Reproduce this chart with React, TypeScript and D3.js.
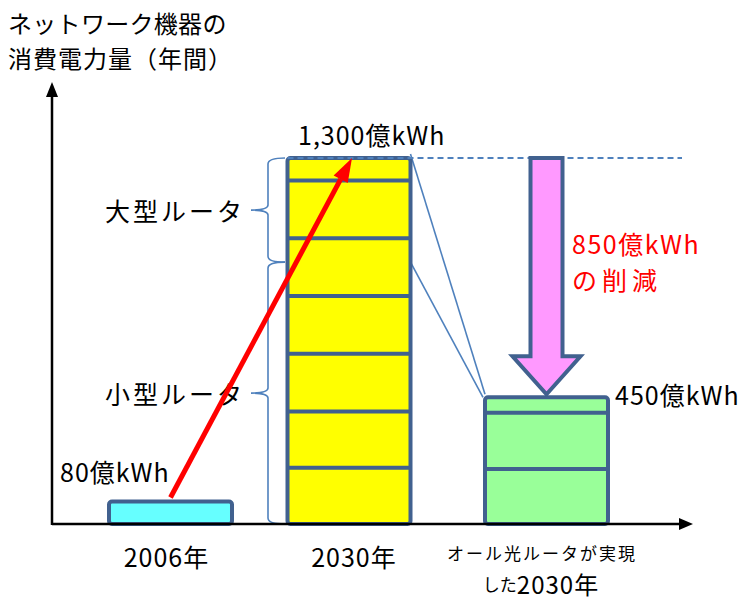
import React from 'react';
import * as d3 from 'd3';

// 年間消費電力量 (億kWh)
const categories = ['2006年', '2030年', 'optical'];
const segments2006 = [80];
const segments2030 = [200, 200, 205, 205, 205, 205, 80];
const segmentsOptical = [195, 200, 55];
const totalLabels = ['80億kWh', '1,300億kWh', '450億kWh'];
const routerGroups = [
  { label: '小型ルータ', from: 0, to: 930 },
  { label: '大型ルータ', from: 930, to: 1300 },
];
const reductionLabel = ['850億kWh', 'の削減'];
const titleLines = ['ネットワーク機器の', '消費電力量（年間）'];

const W = 747;
const H = 601;
const FONT = '"Noto Sans CJK JP", "Noto Sans", sans-serif';
const EDGE = '#41618f';
const BLUE = '#4f81bd';

const fills = ['#66ffff', '#ffff00', '#99ff99'];
const allSegments = [segments2006, segments2030, segmentsOptical];

export default function App() {
  const y = d3.scaleLinear().domain([0, 1300]).range([524, 158]);
  const x = d3.scaleOrdinal<string, number>().domain(categories).range([170.5, 349, 546.5]);
  const half = 61.5;
  const axisX = 52;
  const axisY = y(0);

  const totals = allSegments.map(s => d3.sum(s));

  const bars = categories.map((c, i) => {
    const cum = [0, ...Array.from(d3.cumsum(allSegments[i]))];
    const cx = x(c);
    return (
      <g key={c}>
        <rect x={cx - half} y={y(totals[i])} width={half * 2} height={y(0) - y(totals[i])}
          fill={fills[i]} stroke={EDGE} strokeWidth={4} rx={3} />
        {cum.slice(1, -1).map((v, j) => (
          <line key={j} x1={cx - half} x2={cx + half} y1={y(v)} y2={y(v)} stroke={EDGE} strokeWidth={4} />
        ))}
      </g>
    );
  });

  // brackets
  const bx = 268;
  const brackets = routerGroups.map(g => {
    const yb = y(g.from), yt = y(g.to), ym = (yb + yt) / 2;
    const p = d3.path();
    p.moveTo(285, yt);
    p.quadraticCurveTo(bx, yt, bx, yt + 6);
    p.lineTo(bx, ym - 5);
    p.quadraticCurveTo(bx, ym, 251, ym);
    p.quadraticCurveTo(bx, ym, bx, ym + 5);
    p.lineTo(bx, yb - 6);
    p.quadraticCurveTo(bx, yb, 285, yb);
    return (
      <g key={g.label}>
        <path d={p.toString()} fill="none" stroke={BLUE} strokeWidth={1.6} />
        <text x={245} y={ym} textAnchor="end" dominantBaseline="central" fontSize={25}
          letterSpacing={3} fontFamily={FONT}>{g.label}</text>
      </g>
    );
  });

  // pink reduction arrow
  const ax = x('optical');
  const headLen = 38;
  const shaftHalf = 16;
  const headHalf = 34;
  const aTop = y(totals[1]);
  const aTip = y(totals[2]) - 3;
  const arrowPts: [number, number][] = [
    [ax - shaftHalf, aTop], [ax + shaftHalf, aTop], [ax + shaftHalf, aTip - headLen],
    [ax + headHalf, aTip - headLen], [ax, aTip], [ax - headHalf, aTip - headLen],
    [ax - shaftHalf, aTip - headLen],
  ];

  // red growth arrow
  const r0: [number, number] = [x('2006年'), y(totals[0]) - 4];
  const r1: [number, number] = [x('2030年') + 3, y(totals[1])];
  const ang = Math.atan2(r1[1] - r0[1], r1[0] - r0[0]);
  const hl = 24, hw = 8;
  const rb: [number, number] = [r1[0] - hl * Math.cos(ang), r1[1] - hl * Math.sin(ang)];
  const redHead: [number, number][] = [
    r1,
    [rb[0] + hw * Math.sin(ang), rb[1] - hw * Math.cos(ang)],
    [rb[0] - hw * Math.sin(ang), rb[1] + hw * Math.cos(ang)],
  ];

  const line = d3.line();
  const b2 = x('2030年') + half;
  const b3 = x('optical') - half;

  return (
    <svg width={W} height={H} style={{ position: 'absolute', left: 0, top: 0, background: '#fff' }}>
      {/* title */}
      {titleLines.map((t, i) => (
        <text key={t} x={8} y={22 + i * 35} dominantBaseline="central" fontSize={24}
          letterSpacing={i === 0 ? 0.3 : 1} fontFamily={FONT}>{t}</text>
      ))}

      {/* connection lines */}
      <line x1={b2} y1={y(totals[1]) - 4} x2={b3} y2={y(totals[2]) - 3} stroke={BLUE} strokeWidth={1.6} />
      <line x1={b2} y1={y(routerGroups[1].from)} x2={b3 - 2} y2={y(totals[2])} stroke={BLUE} strokeWidth={1.6} />

      {bars}
      {brackets}

      {/* dashed 1300 level */}
      <line x1={x('2030年') - half} x2={682} y1={y(totals[1])} y2={y(totals[1])}
        stroke={BLUE} strokeWidth={2} strokeDasharray="6,4" />

      <path d={line(arrowPts) + 'Z'} fill="#ff99ff" stroke={EDGE} strokeWidth={4} strokeLinejoin="miter" />

      <line x1={r0[0]} y1={r0[1]} x2={rb[0]} y2={rb[1]} stroke="#ff0000" strokeWidth={5} />
      <path d={line(redHead) + 'Z'} fill="#ff0000" />

      {/* axes */}
      <line x1={axisX} x2={axisX} y1={axisY + 1} y2={95} stroke="#000" strokeWidth={2.5} />
      <path d={line([[axisX - 6, 97], [axisX, 82], [axisX + 6, 97]]) + 'Z'} fill="#000" />
      <line x1={axisX} x2={680} y1={axisY} y2={axisY} stroke="#000" strokeWidth={2.5} />
      <path d={line([[679, axisY - 6], [693, axisY], [679, axisY + 6]]) + 'Z'} fill="#000" />

      {/* value labels */}
      <text x={60} y={471} dominantBaseline="central" fontSize={25} letterSpacing={1} fontFamily={FONT}>{totalLabels[0]}</text>
      <text x={298} y={134} dominantBaseline="central" fontSize={25} letterSpacing={1} fontFamily={FONT}>{totalLabels[1]}</text>
      <text x={615} y={394} dominantBaseline="central" fontSize={25} letterSpacing={1} fontFamily={FONT}>{totalLabels[2]}</text>
      <text x={572} y={243} dominantBaseline="central" fontSize={25} letterSpacing={1.5} fill="#ff0000" fontFamily={FONT}>{reductionLabel[0]}</text>
      <text x={572} y={279} dominantBaseline="central" fontSize={25} letterSpacing={5} fill="#ff0000" fontFamily={FONT}>{reductionLabel[1]}</text>

      {/* category labels */}
      <text x={x('2006年') - 4} y={556} textAnchor="middle" dominantBaseline="central" fontSize={25} letterSpacing={1} fontFamily={FONT}>{categories[0]}</text>
      <text x={x('2030年') + 5} y={556} textAnchor="middle" dominantBaseline="central" fontSize={25} letterSpacing={1} fontFamily={FONT}>{categories[1]}</text>
      <text x={542} y={552} textAnchor="middle" dominantBaseline="central" fontSize={17} letterSpacing={2} fontFamily={FONT}>オール光ルータが実現</text>
      <text x={541} y={583} textAnchor="middle" dominantBaseline="central" fontFamily={FONT}>
        <tspan fontSize={17}>した</tspan>
        <tspan fontSize={24} letterSpacing={1}>2030年</tspan>
      </text>
    </svg>
  );
}
